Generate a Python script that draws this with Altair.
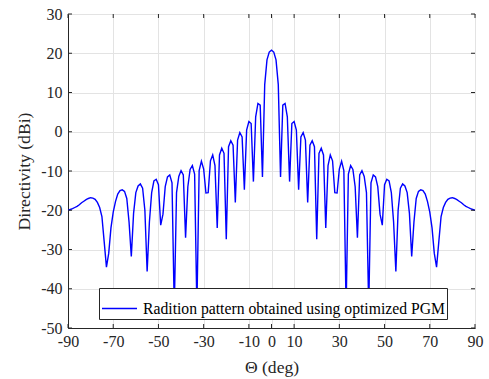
import altair as alt
import pandas as pd

# Angles (deg) and directivity (dBi), sampled every 1 degree
theta = list(range(-90, 91))

dir_left = [
    -20.0, -19.8, -19.6, -19.3, -19.0, -18.6, -18.1, -17.7, -17.3, -17.0,
    -16.8, -16.9, -17.2, -18.0, -19.3, -21.6, -28.0, -34.5, -31.0, -24.5,
    -20.5, -17.8, -15.9, -15.0, -14.8, -15.2, -17.0, -23.0, -31.8, -20.8,
    -15.5, -13.8, -13.3, -14.4, -20.0, -35.6, -23.0, -15.5, -12.5, -12.1,
    -13.5, -23.8, -21.0, -14.0, -11.5, -11.0, -13.0, -45.0, -15.5, -11.4,
    -9.9, -11.0, -27.0, -14.0, -9.6, -8.6, -10.8, -45.0, -9.9, -7.5,
    -9.5, -15.6, -15.5, -7.4, -5.9, -8.6, -24.5, -5.9, -4.2, -5.5,
    -27.4, -3.8, -2.3, -3.4, -18.0, -2.1, -0.2, -1.3, -14.8, 0.4,
    2.6, 2.1, -12.7, 3.8, 7.2, 6.8, -11.5, 12.0, 18.3, 20.3,
]
dir_center = [20.8]
dir_right = [
    20.3, 18.3, 12.0, -11.5, 6.8, 7.2, 3.8, -12.7, 2.1, 2.6,
    0.4, -14.8, -1.3, -0.2, -2.1, -18.0, -3.4, -2.3, -3.8, -27.4,
    -5.5, -4.2, -5.9, -24.5, -8.6, -5.9, -7.4, -15.5, -15.6, -9.5,
    -7.5, -9.9, -45.0, -10.8, -8.6, -9.6, -14.0, -27.0, -11.0, -9.9,
    -11.4, -15.5, -45.0, -13.0, -11.0, -11.5, -14.0, -21.0, -23.8, -13.5,
    -12.1, -12.5, -15.5, -23.0, -35.6, -20.0, -14.4, -13.3, -13.8, -15.5,
    -20.8, -31.8, -23.0, -17.0, -15.2, -14.8, -15.0, -15.9, -17.8, -20.5,
    -24.5, -31.0, -34.5, -28.0, -21.6, -19.3, -18.0, -17.2, -16.9, -16.8,
    -17.0, -17.3, -17.7, -18.1, -18.6, -19.0, -19.3, -19.6, -19.8, -20.0,
]
directivity = dir_left + dir_center + dir_right
series_name = "Radition pattern obtained using optimized PGM"

x_ticks = [-90, -70, -50, -30, -10, 0, 10, 30, 50, 70, 90]
y_ticks = [-50, -40, -30, -20, -10, 0, 10, 20, 30]

W, H = 407, 314
FONT = "Liberation Serif"
AX = "#262626"

df = pd.DataFrame({"theta": theta, "dir": directivity, "series": series_name})
xt = pd.DataFrame({"theta": x_ticks})
yt = pd.DataFrame({"dir": y_ticks})

xscale = alt.Scale(domain=[-90, 90], nice=False, zero=False)
yscale = alt.Scale(domain=[-50, 30], nice=False, zero=False)
axis_style = dict(grid=True, ticks=False, labelFont=FONT, labelFontSize=16,
                  labelColor=AX, titleFont=FONT, titleFontSize=17.6,
                  titleColor=AX, titleFontWeight="normal",
                  labelExpr="'' + datum.value")
xaxis = alt.Axis(values=x_ticks, labelFlush=False, labelPadding=5, titlePadding=9,
                 **axis_style)
yaxis = alt.Axis(values=y_ticks, labelPadding=6, titlePadding=7, **axis_style)
X = alt.X("theta:Q", scale=xscale, title="Θ (deg)", axis=xaxis)
Y = alt.Y("dir:Q", scale=yscale, title="Directivity (dBi)", axis=yaxis)

line = alt.Chart(df).mark_line(strokeWidth=1.4, clip=True).encode(
    x=X,
    y=Y,
    color=alt.Color("series:N", scale=alt.Scale(range=["#0000ff"]),
                    legend=alt.Legend(title=None, orient="none", legendX=31, legendY=274,
                                      symbolType="stroke", symbolSize=1225,
                                      symbolStrokeWidth=1.4, labelFont=FONT,
                                      labelFontSize=15.7, labelColor="black",
                                      labelOffset=5, labelLimit=400,
                                      fillColor="white", strokeColor=AX,
                                      padding=2)),
)

tick_color = AX
bottom_ticks = alt.Chart(xt).mark_rule(color=tick_color, strokeWidth=1).encode(
    x=X, y=alt.value(H), y2=alt.value(H - 4))
top_ticks = alt.Chart(xt).mark_rule(color=tick_color, strokeWidth=1).encode(
    x=X, y=alt.value(0), y2=alt.value(4))
left_ticks = alt.Chart(yt).mark_rule(color=tick_color, strokeWidth=1).encode(
    y=Y, x=alt.value(0), x2=alt.value(4))
right_ticks = alt.Chart(yt).mark_rule(color=tick_color, strokeWidth=1).encode(
    y=Y, x=alt.value(W), x2=alt.value(W - 4))

chart = alt.layer(line, bottom_ticks, top_ticks, left_ticks, right_ticks).properties(
    width=W, height=H,
    padding={"left": 68, "top": 14, "right": 14, "bottom": 51},
    autosize=alt.AutoSizeParams(type="none"),
    background="white",
).configure(font=FONT).configure_view(stroke=AX, strokeWidth=1).configure_axis(
    domainColor=AX, gridColor="#e3e3e3", gridWidth=1,
)

chart.save("out.html", embed_options={"renderer": "svg", "actions": False})
